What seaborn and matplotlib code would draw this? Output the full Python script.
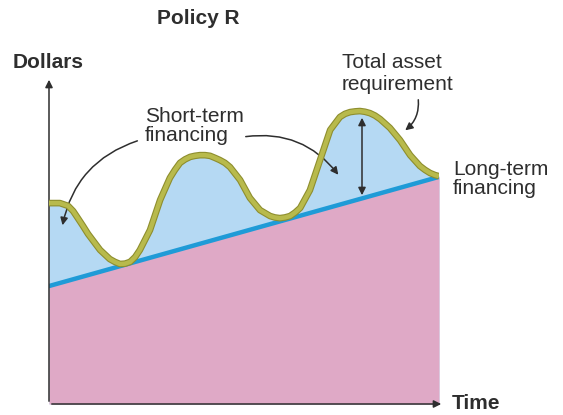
import seaborn as sns
import pandas as pd
import matplotlib.pyplot as plt
import matplotlib.patheffects as pe

# Total asset requirement
time = [0, 2.8, 4.9, 6.2, 7.4, 8.7, 10.0, 13.1, 15.6, 16.9, 18.2, 19.5, 20.8, 22.1,
        23.3, 25.9, 28.5, 31.0, 32.3, 33.6, 34.9, 36.2, 37.4, 38.7, 40.0, 41.3, 42.6,
        43.8, 45.1, 46.4, 49.0, 51.5, 54.1, 56.7, 57.9, 59.2, 60.5, 61.8, 63.1, 64.4,
        66.9, 69.5, 72.1, 74.6, 75.9, 77.2, 78.5, 79.7, 81.0, 82.3, 83.6, 84.9, 87.4,
        90.0, 92.6, 95.1, 96.4, 97.7, 99.0, 100]
total_assets = [57.4, 57.4, 56.6, 55.1, 53.1, 50.9, 48.6, 44.0, 41.4, 40.6, 40.0, 40.1,
                40.6, 42.0, 44.0, 49.7, 58.3, 64.6, 66.9, 68.9, 69.9, 70.6, 70.9, 71.1,
                71.1, 70.9, 70.3, 69.7, 68.9, 67.7, 64.0, 58.9, 55.4, 53.7, 53.3, 53.1,
                53.3, 53.7, 54.7, 56.0, 61.1, 69.7, 78.3, 82.0, 82.9, 83.4, 83.6, 83.7,
                83.5, 83.1, 82.4, 81.4, 78.9, 75.4, 71.1, 68.0, 66.9, 66.0, 65.4, 65.1]

# Long-term financing line
lt_time = [0, 100]
long_term = [33.7, 64.9]

PINK = "#dfa9c6"
LIGHT_BLUE = "#b5d9f3"
BLUE = "#1f9bd7"
OLIVE = "#b8ba4c"
OLIVE_DARK = "#8e8e2e"
INK = "#2e2e2e"

sns.set_theme(style="white")
plt.rcParams['font.family'] = ['Liberation Sans', 'DejaVu Sans']

fig = plt.figure(figsize=(5.63, 4.15), dpi=100)
W, H = 563, 415
# axes spans x 49..439 px, y 54..404 px
ax = fig.add_axes([49 / W, (H - 404) / H, 390 / W, 350 / H])

df = pd.DataFrame({"Time": time, "Dollars": total_assets})
lt = pd.DataFrame({"Time": lt_time, "Dollars": long_term})

# fills: short-term (blue) under total curve, long-term (pink) under line
ax.fill_between(time, total_assets, 0, color=LIGHT_BLUE, lw=0, zorder=1)
ax.fill_between(lt_time, long_term, 0, color=PINK, lw=0, zorder=2)

sns.lineplot(data=lt, x="Time", y="Dollars", ax=ax, color=BLUE, lw=3.2, zorder=3)
sns.lineplot(data=df, x="Time", y="Dollars", ax=ax, color=OLIVE, lw=3.2, zorder=4,
             solid_joinstyle="round", solid_capstyle="butt",
             path_effects=[pe.Stroke(linewidth=4.8, foreground=OLIVE_DARK,
                                     joinstyle="round"), pe.Normal()])
ax.set_xlim(0, 100)
ax.set_ylim(0, 100)
ax.axis("off")

# axes arrows
arrow_kw = dict(arrowstyle="-|>", color=INK, lw=1.1, mutation_scale=11)
ax.annotate("", xy=(0, (404 - 77) / 350), xytext=(0, 0), xycoords="axes fraction",
            arrowprops=arrow_kw, annotation_clip=False)
ax.annotate("", xy=(395 / 390, 0), xytext=(0, 0), xycoords="axes fraction",
            arrowprops=arrow_kw, annotation_clip=False)


def px(x, y):
    # pixel position -> data coordinates
    return ((x - 49) / 3.9, (404 - y) / 3.5)


# callout arrows
ax.annotate("", xy=px(62, 228), xytext=px(140, 140),
            arrowprops=dict(connectionstyle="arc3,rad=0.3", **arrow_kw), annotation_clip=False)
ax.annotate("", xy=px(340, 177), xytext=px(243, 137),
            arrowprops=dict(connectionstyle="arc3,rad=-0.3", **arrow_kw), annotation_clip=False)
ax.annotate("", xy=px(403, 132), xytext=px(418, 97),
            arrowprops=dict(connectionstyle="arc3,rad=-0.3", **arrow_kw), annotation_clip=False)
ax.annotate("", xy=px(362, 115), xytext=px(362, 198),
            arrowprops=dict(arrowstyle="<|-|>", color=INK, lw=1.1, mutation_scale=11),
            annotation_clip=False)


def label(x, y, s, bold=False, ha="left"):
    fig.text(x / W, 1 - y / H, s, ha=ha, va="baseline", fontsize=15, color=INK,
             fontweight="bold" if bold else "normal")


label(198, 24, "Policy R", bold=True, ha="center")
label(13, 68, "Dollars", bold=True)
label(452, 409, "Time", bold=True)
label(342, 68, "Total asset")
label(342, 90, "requirement")
label(145, 122, "Short-term")
label(145, 141, "financing")
label(453, 175, "Long-term")
label(453, 194, "financing")

plt.savefig("out.png", dpi=100)
